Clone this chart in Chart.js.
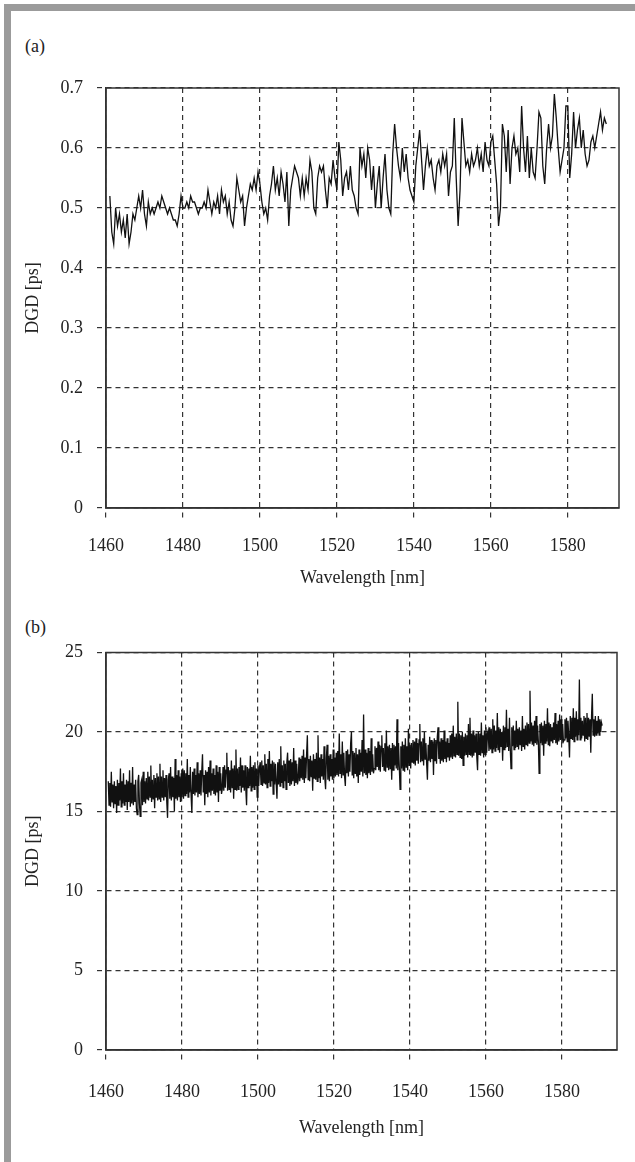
<!DOCTYPE html>
<html>
<head>
<meta charset="utf-8">
<script src="https://cdn.jsdelivr.net/npm/chart.js@4.4.1/dist/chart.umd.min.js"></script>
<style>
  html, body { margin: 0; padding: 0; background: #fff; }
  body { width: 635px; height: 1162px; position: relative; overflow: hidden;
         font-family: "Liberation Serif", "Times New Roman", serif; color: #222; }
  .frame-top { position: absolute; left: 4px; top: 4px; width: 631px; height: 7px; background: #9b9b9b; }
  .frame-left { position: absolute; left: 4px; top: 4px; width: 7px; height: 1158px; background: #9b9b9b; }
  .panel-label { position: absolute; left: 25px; font-size: 18px; line-height: 20px; }
  canvas { position: absolute; left: 0; }
</style>
</head>
<body>
<div class="frame-top"></div>
<div class="frame-left"></div>
<div class="panel-label" style="top:36px">(a)</div>
<div class="panel-label" style="top:617px">(b)</div>
<canvas id="chartA" width="635" height="600" style="top:0"></canvas>
<canvas id="chartB" width="635" height="582" style="top:580px"></canvas>
<script>
// wavelength sampling of the two traces
const WL_A_START = 1461, WL_A_STEP = 0.5;
const WL_B_START = 1460.6, WL_B_STEP = 0.2;

const WL_TICKS = [1460, 1480, 1500, 1520, 1540, 1560, 1580];
const DGD_A_TICKS = [0, 0.1, 0.2, 0.3, 0.4, 0.5, 0.6, 0.7];
const DGD_B_TICKS = [0, 5, 10, 15, 20, 25];

// (a) DGD [ps], 1461 .. 1590 nm
const dgdA = [
  0.52, 0.46, 0.44, 0.50, 0.47, 0.49, 0.46, 0.48, 0.45, 0.49,
  0.44, 0.46, 0.49, 0.48, 0.50, 0.52, 0.50, 0.53, 0.49, 0.47,
  0.51, 0.49, 0.50, 0.49, 0.50, 0.51, 0.50, 0.52, 0.51, 0.50,
  0.49, 0.50, 0.49, 0.48, 0.48, 0.47, 0.49, 0.52, 0.50, 0.50,
  0.51, 0.50, 0.52, 0.51,
  0.51, 0.50, 0.49, 0.50, 0.50, 0.51, 0.50, 0.53, 0.51, 0.49,
  0.51, 0.50, 0.52, 0.49, 0.53, 0.51, 0.52, 0.49, 0.51, 0.48,
  0.47, 0.50, 0.55, 0.53, 0.51, 0.52, 0.47, 0.50, 0.52, 0.54,
  0.53, 0.55, 0.53, 0.56, 0.54, 0.51, 0.49, 0.50, 0.48, 0.52,
  0.54, 0.57, 0.53, 0.55, 0.52, 0.56, 0.54, 0.51, 0.56, 0.47,
  0.53, 0.55, 0.57, 0.56, 0.55,
  0.52, 0.55, 0.52, 0.55, 0.53, 0.58, 0.56, 0.50, 0.49, 0.55,
  0.57, 0.56, 0.57, 0.53, 0.50, 0.55, 0.54, 0.58, 0.55, 0.53,
  0.61, 0.58, 0.52, 0.55, 0.56, 0.53, 0.57, 0.53, 0.52, 0.50,
  0.49, 0.60, 0.57, 0.59, 0.55, 0.60, 0.58, 0.53, 0.57, 0.50,
  0.54, 0.57, 0.50, 0.55, 0.59, 0.53, 0.50, 0.49, 0.59, 0.64,
  0.60, 0.57, 0.55, 0.60, 0.56,
  0.59, 0.55, 0.53, 0.52, 0.51, 0.57, 0.60, 0.63, 0.58, 0.53,
  0.57, 0.60, 0.57, 0.58, 0.55, 0.53, 0.57, 0.58, 0.56, 0.59,
  0.57, 0.59, 0.52, 0.56, 0.57, 0.65, 0.55, 0.47, 0.53, 0.65,
  0.61, 0.57, 0.58, 0.56, 0.59, 0.57, 0.58, 0.60, 0.57, 0.59,
  0.56, 0.61, 0.58, 0.57, 0.61, 0.62, 0.58, 0.54, 0.47, 0.50,
  0.64, 0.62, 0.56, 0.63, 0.54, 0.60, 0.62, 0.59,
  0.60, 0.56, 0.67, 0.60, 0.56, 0.62, 0.55, 0.60, 0.56, 0.55,
  0.60, 0.66, 0.65, 0.57, 0.54, 0.60, 0.64, 0.60, 0.62, 0.69,
  0.65, 0.60, 0.56, 0.58, 0.60, 0.67, 0.67, 0.55, 0.59, 0.66,
  0.60, 0.63, 0.65, 0.60, 0.63, 0.59, 0.57, 0.58, 0.61, 0.62,
  0.60, 0.62, 0.64, 0.66, 0.63, 0.65, 0.64
];

// (b) DGD [ps], 1460.6 .. 1590.6 nm, one block per 10 nm
const dgdB = [
  16.9,15.4,16.8,15.3,17.5,15.6,16.7,15.2,16.9,15.5, 16.6,14.9,17.0,15.4,16.8,15.7,17.7,15.3,16.9,15.5,
  17.4,15.4,16.7,15.6,17.0,15.1,16.9,15.6,17.6,15.3, 16.8,15.5,17.8,15.4,16.7,15.6,17.0,15.2,14.8,16.9,
  17.3,15.5,14.7,16.8,17.0,15.4,17.5,15.6,16.9,15.5,

  17.1,15.8,17.5,15.7,17.2,15.9,17.9,15.6,17.0,15.8, 17.3,15.2,17.1,15.9,17.4,15.7,17.2,15.8,18.0,15.6,
  17.2,15.9,17.6,15.7,17.1,15.9,17.3,15.6,14.6,17.0, 17.4,15.8,17.8,15.7,17.2,15.9,17.1,15.0,18.3,15.8,
  17.3,15.7,17.6,15.9,17.2,15.6,17.4,15.9,17.7,15.8,

  17.6,16.0,17.4,16.1,18.3,15.9,17.3,16.2,17.8,16.0, 14.9,17.5,16.1,17.7,16.0,17.3,16.2,18.1,15.9,17.4,
  16.1,17.6,16.0,17.5,18.6,16.2,17.3,15.4,17.6,16.1, 17.5,15.9,17.8,16.2,18.2,16.0,17.4,16.3,17.7,16.1,
  17.3,16.0,17.9,16.2,17.5,15.6,17.8,16.3,17.4,16.1,

  16.4,17.8,16.3,17.9,16.5,17.6,18.7,16.3,17.8,16.4, 17.6,16.2,18.2,16.5,17.7,15.8,17.9,16.4,18.9,16.3,
  17.7,16.4,17.8,16.6,18.4,16.2,17.9,16.5,17.6,16.3, 17.9,16.4,15.4,17.8,16.5,17.7,16.6,18.5,16.3,17.8,
  16.5,17.9,16.4,18.1,16.6,17.7,15.9,17.9,16.6,17.8,

  18.1,16.7,18.2,16.6,17.9,16.8,18.6,16.7,18.0,16.5, 18.3,16.8,18.8,16.6,18.0,16.9,18.2,16.1,18.1,16.7,
  18.0,16.8,15.8,18.1,16.7,18.3,16.6,19.1,16.8,17.9, 16.5,18.2,16.9,18.0,16.4,18.1,18.7,16.8,18.2,16.6,
  18.3,16.7,18.1,16.9,19.0,16.6,18.2,16.8,18.0,16.7,

  17.0,18.4,16.9,18.3,17.1,18.5,17.0,18.9,16.8,18.4, 17.1,18.6,19.8,17.0,18.3,16.9,18.5,17.2,18.2,16.3,
  18.6,17.1,18.3,17.0,18.7,16.9,19.8,17.1,18.4,16.8, 18.6,17.2,18.3,17.0,19.1,17.1,16.4,18.4,19.2,17.0,
  18.5,16.9,18.6,17.2,18.3,17.0,18.9,17.1,18.4,17.2,

  18.7,17.3,18.8,17.2,19.9,17.4,18.6,17.1,19.4,17.3, 18.7,17.2,16.6,18.8,17.4,18.9,17.2,18.6,17.5,19.3,
  20.0,17.3,18.8,17.1,18.7,17.4,19.0,17.2,18.6,16.8, 18.9,17.3,18.7,17.5,19.5,17.2,21.1,17.4,18.9,17.3,
  18.7,17.1,19.0,17.4,18.8,17.3,19.6,17.5,18.6,17.4,

  17.7,19.1,17.6,19.0,17.8,19.4,17.6,19.2,17.5,19.1, 19.8,17.8,19.0,17.6,19.3,17.5,20.1,17.8,19.1,17.6,
  19.2,17.7,19.0,17.0,19.3,17.6,19.2,17.9,19.1,17.7, 20.8,17.6,19.3,17.8,16.4,19.1,17.7,19.4,17.6,19.2,
  17.5,19.6,17.8,19.1,17.6,20.2,17.9,19.2,17.7,19.3,

  18.1,19.5,18.0,19.4,17.9,19.6,18.2,19.3,18.0,19.5, 20.5,18.1,19.4,18.2,19.6,17.9,20.0,18.3,19.3,18.0,
  17.0,19.2,18.2,19.7,18.1,19.5,18.3,19.4,17.3,19.6, 18.2,19.5,18.0,19.7,20.3,18.3,19.4,18.0,19.6,18.2,
  19.5,18.1,20.1,18.3,19.4,18.1,19.6,18.4,19.3,18.2,

  19.8,18.4,19.9,18.3,20.4,18.5,19.7,18.4,19.9,18.6, 21.9,18.5,19.9,18.4,19.8,18.3,20.0,17.9,19.7,18.5,
  19.9,18.6,19.8,18.4,20.5,18.6,20.9,18.5,19.9,18.4, 20.1,18.5,19.8,18.7,19.9,18.4,17.6,20.0,18.6,19.9,
  18.5,20.6,18.7,19.8,18.4,20.1,18.6,20.3,18.7,19.9,

  20.1,18.8,20.3,18.9,20.2,18.7,20.8,18.9,20.4,18.8, 20.1,19.0,21.2,18.9,20.3,18.7,20.2,19.1,20.0,18.2,
  20.4,18.9,20.3,19.0,21.4,19.1,20.2,18.8,20.9,19.0, 17.7,20.3,19.1,20.4,18.9,20.1,19.0,20.7,19.1,20.2,
  18.9,20.3,19.2,20.1,18.8,21.0,19.1,20.2,18.9,20.4,

  19.2,20.6,19.1,20.5,19.3,22.6,19.4,20.6,19.2,20.4, 19.1,20.7,19.3,21.0,19.2,20.4,19.4,17.4,20.5,19.3,
  20.6,19.2,20.4,18.5,20.7,19.3,20.5,19.4,21.5,19.2, 20.6,19.1,20.5,19.4,20.3,19.3,20.6,19.5,21.2,19.3,
  20.5,19.2,20.7,19.4,21.1,19.5,20.8,19.3,20.5,19.4,

  19.5,20.8,19.6,20.9,19.4,20.7,19.7,18.4,21.0,19.6, 20.9,19.5,21.5,19.4,20.9,19.7,21.3,19.5,20.8,19.8,
  23.3,19.5,20.9,19.6,20.7,19.8,21.0,19.4,20.9,19.6, 21.2,19.5,20.9,19.7,20.8,18.7,21.0,22.4,19.8,20.8,
  19.7,21.0,19.8,20.7,19.9,21.0,19.8,20.8,20.0,20.6,

  20.4
];

const FONT = { family: 'Liberation Serif', size: 18 };
const INK = '#222';

function toPoints(values, start, step) {
  return values.map((v, i) => ({ x: start + i * step, y: v }));
}

// box round the plot area (top and right sides have no axis)
const frameBox = {
  id: 'frameBox',
  afterDraw(chart) {
    const a = chart.chartArea, ctx = chart.ctx;
    ctx.save();
    ctx.strokeStyle = '#333';
    ctx.lineWidth = 1.5;
    ctx.strokeRect(a.left, a.top, a.right - a.left, a.bottom - a.top);
    ctx.restore();
  }
};

function makePanel(id, points, yTicks, o) {
  const grid = {
    color: '#333', lineWidth: 1.2, tickLength: 13,
    tickBorderDash: [5, 4], tickBorderDashOffset: 5
  };
  const border = { color: '#333', width: 1.5, dash: [5, 4] };
  return new Chart(document.getElementById(id), {
    type: 'line',
    data: {
      datasets: [{
        data: points, borderColor: '#111', borderWidth: o.lineWidth,
        pointRadius: 0, tension: 0, fill: false
      }]
    },
    options: {
      responsive: false,
      animation: false,
      events: [],
      layout: { padding: { top: o.padTop, right: o.padRight, bottom: 0, left: 0 } },
      plugins: { legend: { display: false }, tooltip: { enabled: false } },
      scales: {
        x: {
          type: 'linear', min: 1460, max: o.xMax,
          afterBuildTicks: s => { s.ticks = WL_TICKS.map(v => ({ value: v })); },
          afterFit: s => { s.height = o.xAxisHeight; },
          grid: grid, border: border,
          ticks: { font: FONT, color: INK, padding: o.xTickPad, maxRotation: 0, autoSkip: false,
                   callback: v => String(v) },
          title: { display: true, text: 'Wavelength [nm]', font: FONT, color: INK,
                   padding: { top: 0, bottom: o.xTitlePad } }
        },
        y: {
          min: 0, max: yTicks[yTicks.length - 1],
          afterBuildTicks: s => { s.ticks = yTicks.map(v => ({ value: v })); },
          afterFit: s => { s.width = 106; },
          grid: grid, border: border,
          ticks: { font: FONT, color: INK, padding: 10, callback: v => String(v) },
          title: { display: true, text: 'DGD [ps]', font: FONT, color: INK,
                   padding: { top: 22, bottom: 0 } }
        }
      }
    },
    plugins: [frameBox]
  });
}

makePanel('chartA', toPoints(dgdA, WL_A_START, WL_A_STEP), DGD_A_TICKS, {
  lineWidth: 1.3, padTop: 88, padRight: 16, xMax: 1593.3,
  xAxisHeight: 92, xTickPad: 14, xTitlePad: 11
});

makePanel('chartB', toPoints(dgdB, WL_B_START, WL_B_STEP), DGD_B_TICKS, {
  lineWidth: 1.3, padTop: 72.5, padRight: 18, xMax: 1594.5,
  xAxisHeight: 112, xTickPad: 18, xTitlePad: 23
});
</script>
</body>
</html>
